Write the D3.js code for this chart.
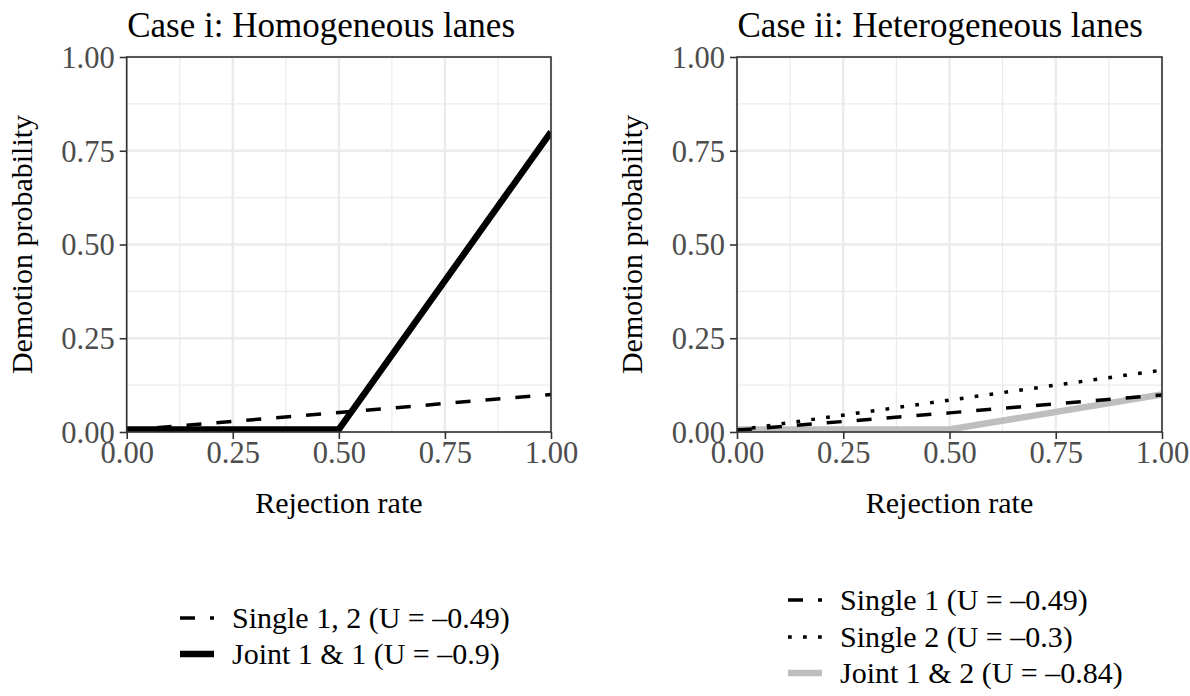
<!DOCTYPE html>
<html>
<head>
<meta charset="utf-8">
<script src="https://cdn.jsdelivr.net/npm/d3@7"></script>
<style>
  html, body { margin: 0; padding: 0; background: #fff; }
  svg { display: block; font-family: "Liberation Serif", "DejaVu Serif", serif; }
</style>
</head>
<body>
<svg id="chart" width="1190" height="696"></svg>
<script>
// ---------------- data ----------------
const tickValues = [0, 0.25, 0.5, 0.75, 1];
const tickLabels = ["0.00", "0.25", "0.50", "0.75", "1.00"];
const minorTicks = [0.125, 0.375, 0.625, 0.875];

const rejectionRate = [0, 0.5, 1];

// Case i
const caseI_title = "Case i: Homogeneous lanes";
const caseI_single12 = [0.005, 0.052, 0.1];
const caseI_joint11 = [0.007, 0.007, 0.8];
const caseI_labels = ["Single 1, 2 (U = –0.49)", "Joint 1 & 1 (U = –0.9)"];

// Case ii
const caseII_title = "Case ii: Heterogeneous lanes";
const caseII_single1 = [0.005, 0.051, 0.099];
const caseII_single2 = [0.005, 0.085, 0.165];
const caseII_joint12 = [0.007, 0.007, 0.1];
const caseII_labels = ["Single 1 (U = –0.49)", "Single 2 (U = –0.3)", "Joint 1 & 2 (U = –0.84)"];

const xTitle = "Rejection rate";
const yTitle = "Demotion probability";

// ---------------- styles ----------------
const styles = {
  dashed: { stroke: "#000", width: 3.5, dash: "15,15" },
  dotted: { stroke: "#000", width: 3.5, dash: "3.75,11.25" },
  solid:  { stroke: "#000", width: 6.5, dash: null },
  grey:   { stroke: "#bebebe", width: 6.5, dash: null }
};

const panels = [
  {
    title: caseI_title,
    left: 126.7, right: 551, top: 57, bottom: 432,
    series: [
      { values: caseI_single12, style: "dashed", label: caseI_labels[0] },
      { values: caseI_joint11, style: "solid", label: caseI_labels[1] }
    ],
    drawOrder: [0, 1],
    legend: { x: 180, ys: [618, 654] }
  },
  {
    title: caseII_title,
    left: 737, right: 1162, top: 57, bottom: 432,
    series: [
      { values: caseII_single1, style: "dashed", label: caseII_labels[0] },
      { values: caseII_single2, style: "dotted", label: caseII_labels[1] },
      { values: caseII_joint12, style: "grey", label: caseII_labels[2] }
    ],
    drawOrder: [2, 0, 1],
    legend: { x: 788, ys: [600, 637, 673] }
  }
];

const svg = d3.select("#chart");
const tickFont = 30.5;
const titleFont = 35;
const axisTitleFont = 30;
const legendFont = 30;

panels.forEach((p, pi) => {
  const x = d3.scaleLinear().domain([0, 1]).range([p.left, p.right]);
  const y = d3.scaleLinear().domain([0, 1]).range([p.bottom, p.top]);
  const g = svg.append("g");

  g.append("rect").attr("x", p.left).attr("y", p.top)
    .attr("width", p.right - p.left).attr("height", p.bottom - p.top)
    .attr("fill", "#fff");

  // minor grid
  g.selectAll(".minx").data(minorTicks).enter().append("line")
    .attr("x1", d => x(d)).attr("x2", d => x(d))
    .attr("y1", p.top).attr("y2", p.bottom)
    .attr("stroke", "#ebebeb").attr("stroke-width", 1.2);
  g.selectAll(".miny").data(minorTicks).enter().append("line")
    .attr("y1", d => y(d)).attr("y2", d => y(d))
    .attr("x1", p.left).attr("x2", p.right)
    .attr("stroke", "#ebebeb").attr("stroke-width", 1.2);
  // major grid
  g.selectAll(".majx").data(tickValues).enter().append("line")
    .attr("x1", d => x(d)).attr("x2", d => x(d))
    .attr("y1", p.top).attr("y2", p.bottom)
    .attr("stroke", "#ebebeb").attr("stroke-width", 2.4);
  g.selectAll(".majy").data(tickValues).enter().append("line")
    .attr("y1", d => y(d)).attr("y2", d => y(d))
    .attr("x1", p.left).attr("x2", p.right)
    .attr("stroke", "#ebebeb").attr("stroke-width", 2.4);

  const clipId = "clip" + pi;
  svg.append("clipPath").attr("id", clipId).append("rect")
    .attr("x", p.left).attr("y", p.top)
    .attr("width", p.right - p.left).attr("height", p.bottom - p.top);

  const line = d3.line().x((d, i) => x(rejectionRate[i])).y(d => y(d));
  const lg = g.append("g").attr("clip-path", `url(#${clipId})`);
  p.drawOrder.forEach(si => {
    const s = p.series[si];
    const st = styles[s.style];
    lg.append("path").datum(s.values)
      .attr("d", line)
      .attr("fill", "none")
      .attr("stroke", st.stroke)
      .attr("stroke-width", st.width)
      .attr("stroke-dasharray", st.dash)
      .attr("stroke-linecap", "butt")
      .attr("stroke-linejoin", "round");
  });

  g.append("rect").attr("x", p.left).attr("y", p.top)
    .attr("width", p.right - p.left).attr("height", p.bottom - p.top)
    .attr("fill", "none").attr("stroke", "#333333").attr("stroke-width", 1.6);

  const xAxis = d3.axisBottom(x).tickValues(tickValues)
    .tickFormat((d, i) => tickLabels[i]).tickSize(7).tickPadding(3);
  const yAxis = d3.axisLeft(y).tickValues(tickValues)
    .tickFormat((d, i) => tickLabels[i]).tickSize(7).tickPadding(5);

  const xa = g.append("g").attr("transform", `translate(0,${p.bottom})`).call(xAxis);
  const ya = g.append("g").attr("transform", `translate(${p.left},0)`).call(yAxis);
  [xa, ya].forEach(a => {
    a.attr("font-family", null).attr("font-size", null);
    a.select(".domain").remove();
    a.selectAll(".tick line").attr("stroke", "#333333").attr("stroke-width", 1.6);
    a.selectAll(".tick text").attr("fill", "#4d4d4d")
      .style("font-family", '"Liberation Serif", serif')
      .style("font-size", tickFont + "px");
  });
  ya.selectAll(".tick text").attr("dy", "0.34em");
  xa.selectAll(".tick text").attr("dy", "0.68em");

  g.append("text").attr("x", p.left + 0.5).attr("y", 37)
    .attr("font-size", titleFont).attr("fill", "#000")
    .text(p.title);

  g.append("text").attr("x", (p.left + p.right) / 2).attr("y", 513)
    .attr("text-anchor", "middle").attr("font-size", axisTitleFont).attr("fill", "#000")
    .text(xTitle);

  const ycx = p.left - 95;
  const ycy = (p.top + p.bottom) / 2;
  g.append("text").attr("transform", `translate(${ycx},${ycy}) rotate(-90)`)
    .attr("text-anchor", "middle").attr("font-size", axisTitleFont).attr("fill", "#000")
    .text(yTitle);

  const keyW = 34;
  p.series.forEach((s, i) => {
    const st = styles[s.style];
    const ly = p.legend.ys[i];
    g.append("line")
      .attr("x1", p.legend.x).attr("x2", p.legend.x + keyW)
      .attr("y1", ly).attr("y2", ly)
      .attr("stroke", st.stroke)
      .attr("stroke-width", st.width)
      .attr("stroke-dasharray", st.dash)
      .attr("stroke-linecap", "butt");
    g.append("text").attr("x", p.legend.x + keyW + 18).attr("y", ly)
      .attr("dy", "0.34em")
      .attr("font-size", legendFont).attr("fill", "#000")
      .text(s.label);
  });
});
</script>
</body>
</html>
